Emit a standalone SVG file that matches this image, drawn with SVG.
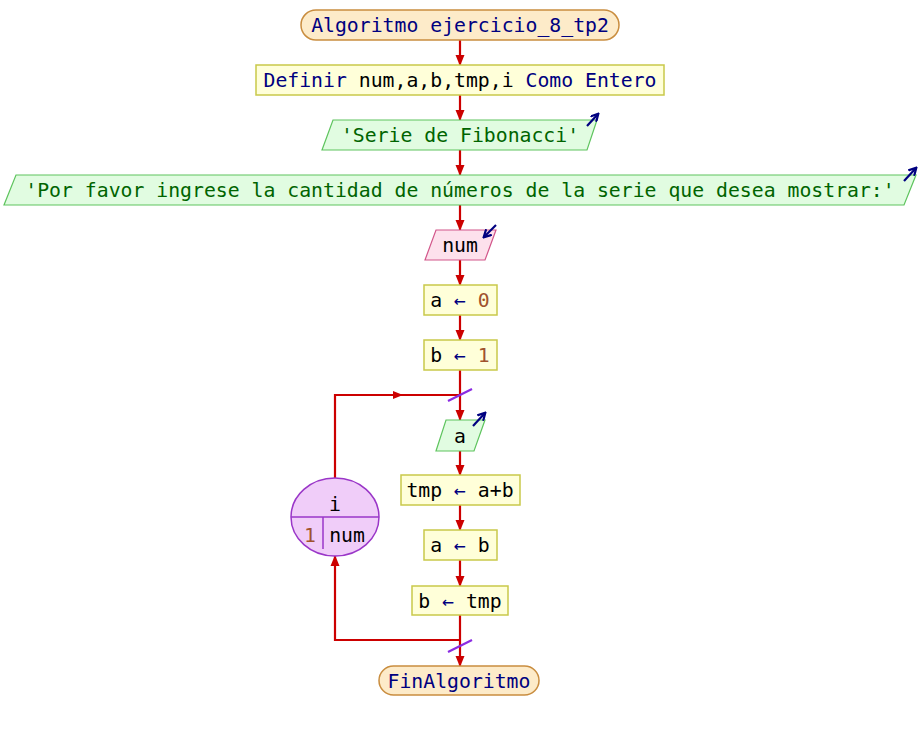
<svg xmlns="http://www.w3.org/2000/svg" width="920" height="730" viewBox="0 0 920 730">
<defs>
<marker id="ah" markerWidth="12" markerHeight="12" refX="10" refY="6" orient="auto" markerUnits="userSpaceOnUse"><path d="M0,1.5 L11,6 L0,10.5 Z" fill="#cc0000"/></marker>
<marker id="am" markerWidth="12" markerHeight="12" refX="5" refY="6" orient="auto" markerUnits="userSpaceOnUse"><path d="M0,2 L10,6 L0,10 Z" fill="#cc0000"/></marker>
<marker id="io" markerWidth="9" markerHeight="9" refX="7.5" refY="4.5" orient="auto" markerUnits="userSpaceOnUse"><path d="M0.5,0.5 L8,4.5 L0.5,8.5" fill="none" stroke="#000080" stroke-width="2.2"/></marker>
</defs>
<style>
text{font-family:"DejaVu Sans Mono","Liberation Mono",monospace;font-size:19.8px;text-anchor:middle}
.term{fill:#fdebc9;stroke:#c98d3f;stroke-width:1.5}
.proc{fill:#ffffd9;stroke:#c9c94a;stroke-width:1.5}
.out{fill:#e1fce1;stroke:#5ec45e;stroke-width:1.2}
.inp{fill:#fde1ec;stroke:#d2568a;stroke-width:1.2}
.loop{fill:#f0cdf9;stroke:#9a36c8;stroke-width:1.5}
.kw{fill:#000080}
.blk{fill:#000000}
.str{fill:#006400}
.num{fill:#a0522d}
.con{fill:none;stroke:#cc0000;stroke-width:2.2}
.io{stroke:#000080;stroke-width:2.2;fill:none}
.sl{stroke:#8a2be2;stroke-width:2.2}
</style>
<g id="connectors">
<line class="con" x1="460" y1="40" x2="460" y2="65" marker-end="url(#ah)"/>
<line class="con" x1="460" y1="95" x2="460" y2="120" marker-end="url(#ah)"/>
<line class="con" x1="460" y1="150" x2="460" y2="175" marker-end="url(#ah)"/>
<line class="con" x1="460" y1="205" x2="460" y2="230" marker-end="url(#ah)"/>
<line class="con" x1="460" y1="260" x2="460" y2="285" marker-end="url(#ah)"/>
<line class="con" x1="460" y1="315" x2="460" y2="340" marker-end="url(#ah)"/>
<line class="con" x1="460" y1="370" x2="460" y2="420" marker-end="url(#ah)"/>
<line class="con" x1="460" y1="451" x2="460" y2="475" marker-end="url(#ah)"/>
<line class="con" x1="460" y1="505" x2="460" y2="530" marker-end="url(#ah)"/>
<line class="con" x1="460" y1="560" x2="460" y2="586" marker-end="url(#ah)"/>
<line class="con" x1="460" y1="615" x2="460" y2="666" marker-end="url(#ah)"/>
<polyline class="con" points="335,478 335,395 398,395" marker-end="url(#am)"/>
<line class="con" x1="395" y1="395" x2="460" y2="395"/>
<polyline class="con" points="460,640 335,640 335,556" marker-end="url(#ah)"/>
<line class="sl" x1="448" y1="401" x2="472" y2="389"/>
<line class="sl" x1="448" y1="652" x2="472" y2="640"/>
</g>
<g id="start">
<rect class="term" x="301" y="10" width="318" height="30" rx="15"/>
<text x="460" y="32" class="kw">Algoritmo ejercicio_8_tp2</text>
</g>
<g id="definir">
<rect class="proc" x="256" y="65" width="408" height="30"/>
<text x="460" y="87"><tspan class="kw">Definir</tspan><tspan class="blk"> num,a,b,tmp,i </tspan><tspan class="kw">Como Entero</tspan></text>
</g>
<g id="out1">
<polygon class="out" points="333,120 597,120 587,150 322,150"/>
<text x="460" y="142" class="str">'Serie de Fibonacci'</text>
<line class="io" x1="587" y1="126" x2="598" y2="114" marker-end="url(#io)"/>
</g>
<g id="out2">
<polygon class="out" points="16,175 916,175 904,205 4,205"/>
<text x="460" y="197" class="str">'Por favor ingrese la cantidad de números de la serie que desea mostrar:'</text>
<line class="io" x1="904" y1="181" x2="916" y2="168" marker-end="url(#io)"/>
</g>
<g id="in1">
<polygon class="inp" points="436,230 496,230 485,260 425,260"/>
<text x="460" y="252" class="blk">num</text>
<line class="io" x1="496" y1="225" x2="484" y2="237" marker-end="url(#io)"/>
</g>
<g id="assign1">
<rect class="proc" x="424" y="285" width="73" height="30"/>
<text x="460" y="307"><tspan class="blk">a </tspan><tspan class="kw">←</tspan><tspan class="num"> 0</tspan></text>
</g>
<g id="assign2">
<rect class="proc" x="424" y="340" width="73" height="30"/>
<text x="460" y="362"><tspan class="blk">b </tspan><tspan class="kw">←</tspan><tspan class="num"> 1</tspan></text>
</g>
<g id="out3">
<polygon class="out" points="446,420 485,420 474,451 436,451"/>
<text x="460" y="443" class="blk">a</text>
<line class="io" x1="473" y1="426" x2="485" y2="413" marker-end="url(#io)"/>
</g>
<g id="assign3">
<rect class="proc" x="401" y="475" width="119" height="30"/>
<text x="460" y="497"><tspan class="blk">tmp </tspan><tspan class="kw">←</tspan><tspan class="blk"> a+b</tspan></text>
</g>
<g id="assign4">
<rect class="proc" x="424" y="530" width="73" height="30"/>
<text x="460" y="552"><tspan class="blk">a </tspan><tspan class="kw">←</tspan><tspan class="blk"> b</tspan></text>
</g>
<g id="assign5">
<rect class="proc" x="412" y="586" width="96" height="29"/>
<text x="460" y="608"><tspan class="blk">b </tspan><tspan class="kw">←</tspan><tspan class="blk"> tmp</tspan></text>
</g>
<g id="loop">
<ellipse class="loop" cx="335" cy="517" rx="44" ry="39"/>
<line x1="291" y1="517" x2="379" y2="517" stroke="#9a36c8" stroke-width="1.5"/>
<line x1="323" y1="517" x2="323" y2="549" stroke="#9a36c8" stroke-width="1.5"/>
<text x="335" y="511" class="blk">i</text>
<text x="310" y="542" class="num">1</text>
<text x="347" y="542" class="blk">num</text>
</g>
<g id="end">
<rect class="term" x="379" y="666" width="160" height="29" rx="14.5"/>
<text x="459" y="688" class="kw">FinAlgoritmo</text>
</g>
</svg>
